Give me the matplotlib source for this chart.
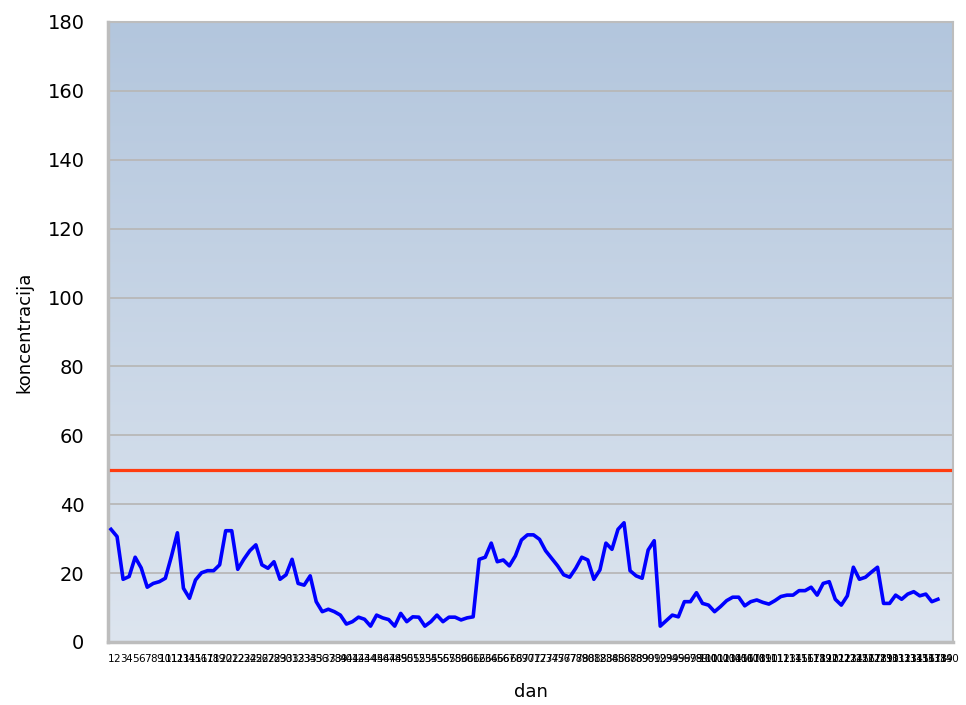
import numpy as np
import matplotlib
matplotlib.use("Agg")
import matplotlib.pyplot as plt
from matplotlib.colors import LinearSegmentedColormap

# dnevne koncentracije (ocitano s grafa)
koncentracija = [
    32.7, 30.6, 18.2, 19.0, 24.6, 21.5, 15.9, 17.0, 17.5, 18.5,
    24.8, 31.7, 15.6, 12.7, 18.0, 20.1, 20.7, 20.7, 22.4, 32.3,
    32.3, 21.1, 24.0, 26.5, 28.2, 22.4, 21.4, 23.3, 18.2, 19.5,
    24.0, 17.0, 16.5, 19.2, 11.7, 8.8, 9.5, 8.8, 7.8, 5.2,
    5.9, 7.2, 6.6, 4.6, 7.8, 7.0, 6.5, 4.6, 8.3, 5.9,
    7.3, 7.2, 4.6, 5.9, 7.8, 5.9, 7.2, 7.2, 6.4, 7.0,
    7.3, 24.0, 24.6, 28.7, 23.3, 23.8, 22.1, 25.0, 29.6, 31.1,
    31.1, 29.8, 26.5, 24.3, 22.1, 19.5, 18.8, 21.4, 24.6, 23.8,
    18.2, 20.9, 28.7, 26.9, 32.7, 34.6, 20.7, 19.2, 18.5, 26.7,
    29.4, 4.6, 6.2, 7.8, 7.3, 11.7, 11.7, 14.3, 11.2, 10.7,
    8.8, 10.3, 12.0, 13.0, 13.0, 10.5, 11.7, 12.2, 11.5, 11.0,
    12.0, 13.2, 13.6, 13.6, 14.9, 14.9, 15.9, 13.6, 17.0, 17.5,
    12.4, 10.7, 13.4, 21.7, 18.2, 18.8, 20.3, 21.7, 11.2, 11.2,
    13.6, 12.4, 13.9, 14.6, 13.4, 13.9, 11.7, 12.4,
]
granica = 50
broj_dana = 140
dani = list(range(1, broj_dana + 1))
y_ticks = list(range(0, 181, 20))

fig = plt.figure(figsize=(9.66, 7.05), dpi=100)
ax = fig.add_axes([0.1118, 0.0894, 0.8747, 0.8794])

# gradijent pozadine
cmap = LinearSegmentedColormap.from_list("bg", ["#dde5ef", "#b3c6dd"])
grad = np.linspace(0, 1, 256).reshape(-1, 1)
ax.imshow(grad, cmap=cmap, aspect="auto", origin="lower",
          extent=[0.5, broj_dana + 0.5, 0, 180], zorder=0)

for t in y_ticks:
    ax.axhline(t, color="#b8b8b8", lw=1.3, zorder=1)

ax.plot(dani, [granica] * broj_dana, color="#ff3c10", lw=2.3, zorder=3)
ax.plot(dani[:len(koncentracija)], koncentracija, color="#0000ff", lw=2.6,
        zorder=4, solid_joinstyle="round")

ax.set_xlim(0.5, broj_dana + 0.5)
ax.set_ylim(0, 180)
ax.set_yticks(y_ticks)
ax.set_xticks(dani)
ax.set_xticklabels([str(d) for d in dani], fontsize=7.5,
                   family="Liberation Sans Narrow")
ax.tick_params(axis="y", length=0, pad=17, labelsize=14)
ax.tick_params(axis="x", length=0, pad=9)

for s in ax.spines.values():
    s.set_color("#bdbdbd")
    s.set_linewidth(1.5)
ax.spines["left"].set_linewidth(2.5)
ax.spines["bottom"].set_linewidth(2.5)

ax.set_ylabel("koncentracija", fontsize=13, labelpad=10)
ax.set_xlabel("dan", fontsize=13, labelpad=13)

fig.savefig("out.png", dpi=100)
